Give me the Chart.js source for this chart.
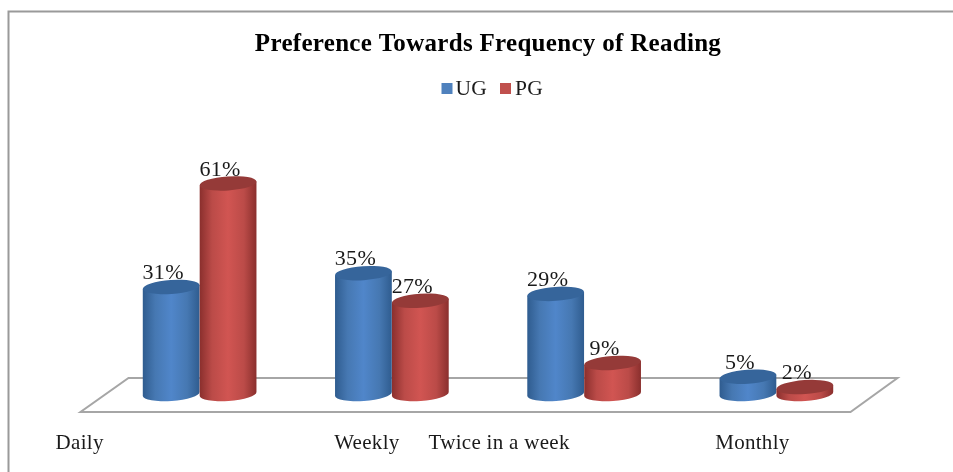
<!DOCTYPE html>
<html><head><meta charset="utf-8">
<style>html,body{margin:0;padding:0;background:#fff}#w{width:953px;height:472px}canvas{filter:blur(0.55px)}</style>
<script src="https://cdn.jsdelivr.net/npm/chart.js@4"></script></head>
<body><div id="w"><canvas id="c" width="953" height="472"></canvas></div>
<script>
const categories = ['Daily','Weekly','Twice in a week','Monthly'];
const ugValues = [31,35,29,5];
const pgValues = [61,27,9,2];
const seriesNames = ['UG','PG'];
const legendColors = ['#4f81bd','#c0504d'];
const edgeColors = ['#2f5c8f','#8a2f2d'];
const midColors = ['#4678b2','#bb4b48'];
const lightColors = ['#5086ca','#d15552'];
const topColors = ['#36659b','#953a38'];
const labelShifts = [-120,-25,-85,-24];
const serif = '"Liberation Serif","Times New Roman",serif';

const cylinders = {
  id:'cylinders',
  beforeDraw(chart){
    const {ctx,width,height}=chart;
    ctx.fillStyle='#fff';ctx.fillRect(0,0,width,height);
    ctx.strokeStyle='#9a9a9a';ctx.lineWidth=2;
    ctx.beginPath();ctx.moveTo(8.5,height);ctx.lineTo(8.5,11.5);ctx.lineTo(width,11.5);ctx.stroke();
    ctx.letterSpacing='0.3px';
  },
  afterUpdate(chart){
    chart.scales.x.getLabelItems().forEach((it,i)=>{it.options.translation[0]+=labelShifts[i];});
  },
  beforeDatasetsDraw(chart){
    const {ctx,chartArea:a}=chart;
    ctx.save();
    ctx.strokeStyle='#a6a6a6';ctx.lineWidth=2;ctx.fillStyle='#fff';
    ctx.beginPath();
    ctx.moveTo(a.left+25,a.bottom-16);ctx.lineTo(a.right+25,a.bottom-16);
    ctx.lineTo(a.right-22,a.bottom+18);ctx.lineTo(a.left-23,a.bottom+18);ctx.closePath();
    ctx.fill();ctx.stroke();
    ctx.restore();
  },
  afterDatasetsDraw(chart){
    const {ctx}=chart;
    const ry=7, rot=-0.07;
    ctx.save();
    chart.data.datasets.forEach((ds,d)=>{
      chart.getDatasetMeta(d).data.forEach(el=>{
        const {x,y,base,width}=el.getProps(['x','y','base','width'],true);
        const rx=width/2, c=Math.cos(rot), s=Math.sin(rot);
        const g=ctx.createLinearGradient(x-rx,0,x+rx,0);
        g.addColorStop(0,edgeColors[d]);g.addColorStop(.22,midColors[d]);g.addColorStop(.5,lightColors[d]);g.addColorStop(.78,midColors[d]);g.addColorStop(1,edgeColors[d]);
        ctx.fillStyle=g;
        ctx.beginPath();
        ctx.ellipse(x,base,rx,ry,rot,0,Math.PI);
        ctx.lineTo(x-rx*c,y-rx*s);
        ctx.lineTo(x+rx*c,y+rx*s);
        ctx.closePath();ctx.fill();
        ctx.fillStyle=topColors[d];
        ctx.beginPath();ctx.ellipse(x,y,rx,ry,rot,0,Math.PI*2);ctx.fill();
      });
    });
    ctx.fillStyle='#1a1a1a';ctx.font='22px '+serif;ctx.textAlign='center';ctx.textBaseline='middle';
    chart.data.datasets.forEach((ds,d)=>{
      chart.getDatasetMeta(d).data.forEach((el,i)=>{
        ctx.fillText(ds.data[i]+'%',el.x-8,el.y-13.5);
      });
    });
    ctx.font='21.5px '+serif;ctx.textAlign='left';
    const boxX=[441.5,500], textX=[455.5,515];
    seriesNames.forEach((n,i)=>{
      ctx.fillStyle=legendColors[i];ctx.fillRect(boxX[i],83,11,11);
      ctx.fillStyle='#1a1a1a';ctx.fillText(n,textX[i],89);
    });
    ctx.restore();
  }
};

new Chart(document.getElementById('c'),{
  type:'bar',
  data:{labels:categories,datasets:[
    {label:seriesNames[0],data:ugValues,backgroundColor:'transparent',borderWidth:0},
    {label:seriesNames[1],data:pgValues,backgroundColor:'transparent',borderWidth:0}
  ]},
  options:{
    responsive:false,animation:false,
    datasets:{bar:{barPercentage:1,categoryPercentage:0.592}},
    layout:{padding:{left:103.5,right:80.5,top:0,bottom:0}},
    plugins:{
      legend:{display:false},tooltip:{enabled:false},
      title:{display:true,text:'Preference Towards Frequency of Reading',color:'#000',
        font:{family:serif,size:25,weight:'bold',lineHeight:1.2},
        padding:{top:30,bottom:44}}
    },
    scales:{
      x:{grid:{display:false,drawTicks:false},border:{display:false},
        afterFit(s){s.height=78;},
        ticks:{color:'#1a1a1a',padding:37,maxRotation:0,autoSkip:false,font:{family:serif,size:21}}},
      y:{display:false,min:0,max:84}
    }
  },
  plugins:[cylinders]
});
</script></body></html>
